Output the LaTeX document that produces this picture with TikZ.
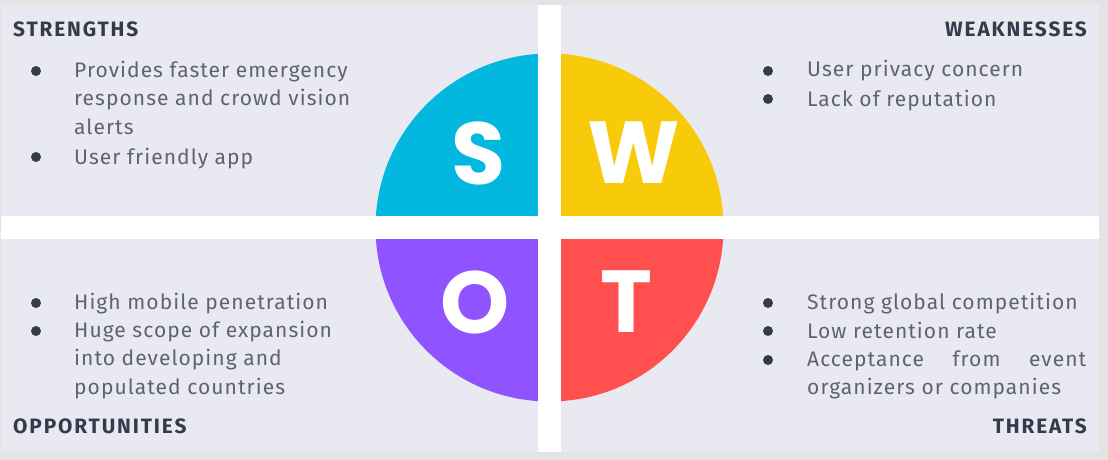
\documentclass[tikz,border=0pt]{standalone}
\usepackage{fontspec}
\setmainfont{Fira Sans}
\newfontfamily\bodyfont{Fira Sans}[LetterSpace=5]
\newfontfamily\headfont{Fira Sans}[LetterSpace=9]
\newfontfamily\swotletters{Poppins}
\usepackage{xcolor}
\definecolor{frame}{HTML}{E4E4E4}
\definecolor{panel}{HTML}{E9E9F2}
\definecolor{scyan}{HTML}{02B8DE}
\definecolor{wyellow}{HTML}{F8CB0A}
\definecolor{opurple}{HTML}{8F54FF}
\definecolor{tred}{HTML}{FF4F4F}
\definecolor{headink}{HTML}{363A4D}
\definecolor{bodyink}{HTML}{5F6271}
\usetikzlibrary{positioning}

\begin{document}
\begin{tikzpicture}[x=1pt,y=-1pt,
  head/.style={font=\headfont\bfseries\fontsize{20.8}{20.8}\selectfont,text=headink,inner sep=0pt},
  item/.style={font=\bodyfont\fontsize{21}{28.7}\selectfont,text=bodyink,align=left,inner sep=0pt,anchor=base west},
  dot/.style={circle,fill=headink,minimum size=10pt,inner sep=0pt},
  letter/.style={font=\swotletters\bfseries\fontsize{88}{88}\selectfont,text=white,inner sep=0pt}]
\useasboundingbox (0,0) rectangle (1108,460);
\fill[frame] (0,0) rectangle (1108,460);
\fill[panel] (1,5) rectangle (1099,452);
% the four quarters
\coordinate (c) at (549.5,227.5);
\begin{scope}
\clip (c) circle (174);
\fill[scyan] (c) rectangle (370,45);
\fill[wyellow] (c) rectangle (730,45);
\fill[opurple] (c) rectangle (370,410);
\fill[tred] (c) rectangle (730,410);
\end{scope}
\fill[white] (538,5) rectangle (561,452);
\fill[white] (1,216) rectangle (1099,239);
\node[letter] (S) at (479,153) {S};
\node[letter] (W) at (634,153) {W};
\node[letter] (O) at (475,302) {O};
\node[letter] (T) at (626,302) {T};
% strengths (base = last line)
\node[head,anchor=base west] (sh) at (13,37) {STRENGTHS};
\node[dot] (sd1) at (36,71) {}; \node[item] (s1) at (74,134.4) {Provides faster emergency\\response and crowd vision\\alerts};
\node[dot] (sd2) at (36,157) {}; \node[item] (s2) at (74,164) {User friendly app};
% weaknesses
\node[head,anchor=base east] (wh) at (1087,37) {WEAKNESSES};
\node[dot] (wd1) at (768,71) {}; \node[item] (w1) at (807,77) {User privacy concern};
\node[dot] (wd2) at (768,99) {}; \node[item] (w2) at (807,106) {Lack of reputation};
% opportunities
\node[dot] (od1) at (36,303) {}; \node[item] (o1) at (74,309) {High mobile penetration};
\node[dot] (od2) at (36,331) {}; \node[item] (o2) at (74,394.4) {Huge scope of expansion\\into developing and\\populated countries};
\node[head,anchor=base west] (oh) at (13,433) {OPPORTUNITIES};
% threats
\node[dot] (td1) at (768,303) {}; \node[item] (t1) at (807,309) {Strong global competition};
\node[dot] (td2) at (768,331) {}; \node[item] (t2) at (807,338) {Low retention rate};
\node[dot] (td3) at (768,360) {}; \node[item] (t3) at (807,394.7) {\hbox to 279pt{Acceptance\hfill from\hfill event}\\organizers or companies};
\node[head,anchor=base east] (th) at (1087,433) {THREATS};
\end{tikzpicture}
\end{document}
